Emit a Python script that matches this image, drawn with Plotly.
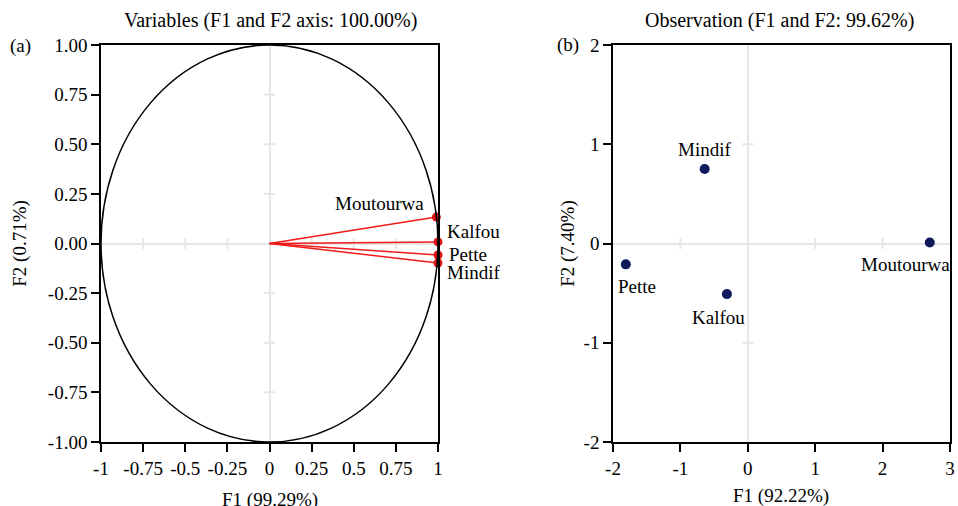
import plotly.graph_objects as go

# Data
var_names = ["Moutourwa", "Kalfou", "Pette", "Mindif"]
var_f1 = [0.99, 1.00, 1.00, 1.00]
var_f2 = [0.133, 0.008, -0.058, -0.098]

obs_names = ["Mindif", "Pette", "Kalfou", "Moutourwa"]
obs_f1 = [-0.64, -1.81, -0.31, 2.70]
obs_f2 = [0.75, -0.21, -0.51, 0.01]

left_xticks = [-1, -0.75, -0.5, -0.25, 0, 0.25, 0.5, 0.75, 1]
left_xtick_text = ["-1", "-0.75", "-0.5", "-0.25", "0", "0.25", "0.5", "0.75", "1"]
left_yticks = [1, 0.75, 0.5, 0.25, 0, -0.25, -0.5, -0.75, -1]
left_ytick_text = ["1.00", "0.75", "0.50", "0.25", "0.00", "-0.25", "-0.50", "-0.75", "-1.00"]
right_xticks = [-2, -1, 0, 1, 2, 3]
right_xtick_text = ["-2", "-1", "0", "1", "2", "3"]
right_yticks = [-2, -1, 0, 1, 2]
right_ytick_text = ["-2", "-1", "0", "1", "2"]

# label styling (anchor, x offset px, y offset px)
var_label_style = [("right", -10, 14), ("left", 7, 10), ("left", 9, 1), ("left", 7, -10)]
obs_label_style = [("center", 0, 20), ("center", 11, -22), ("center", -8, -23), ("center", -24, -22)]

FONT = "Liberation Serif"
FS = 19
GRID = "#e6e6e6"

fig = go.Figure()

# small tick marks on zero lines (left)
fig.add_trace(go.Scatter(x=[t for t in left_xticks if t not in (0, -1, 1)], y=[0]*6, mode="markers",
                         marker=dict(symbol="line-ns", size=8, line=dict(color=GRID, width=2)),
                         xaxis="x", yaxis="y", hoverinfo="skip", showlegend=False))
fig.add_trace(go.Scatter(x=[0]*6, y=[t for t in left_yticks if t not in (0, -1, 1)], mode="markers",
                         marker=dict(symbol="line-ew", size=8, line=dict(color=GRID, width=2)),
                         xaxis="x", yaxis="y", hoverinfo="skip", showlegend=False))

# arrows
for n, x, y in zip(var_names, var_f1, var_f2):
    fig.add_trace(go.Scatter(x=[0, x], y=[0, y], mode="lines", line=dict(color="#f01a1a", width=1.5),
                             xaxis="x", yaxis="y", showlegend=False, hoverinfo="skip"))
fig.add_trace(go.Scatter(x=var_f1, y=var_f2, mode="markers", cliponaxis=False,
                         marker=dict(color="#e01515", size=9),
                         xaxis="x", yaxis="y", showlegend=False))

# right zero-line ticks
fig.add_trace(go.Scatter(x=[-1, 1, 2], y=[0, 0, 0], mode="markers",
                         marker=dict(symbol="line-ns", size=8, line=dict(color=GRID, width=2)),
                         xaxis="x2", yaxis="y2", hoverinfo="skip", showlegend=False))
fig.add_trace(go.Scatter(x=[0, 0], y=[-1, 1], mode="markers",
                         marker=dict(symbol="line-ew", size=8, line=dict(color=GRID, width=2)),
                         xaxis="x2", yaxis="y2", hoverinfo="skip", showlegend=False))

fig.add_trace(go.Scatter(x=obs_f1, y=obs_f2, mode="markers", cliponaxis=False,
                         marker=dict(color="#0f1a5c", size=10),
                         xaxis="x2", yaxis="y2", showlegend=False))

fig.add_shape(type="circle", xref="x", yref="y", x0=-1, y0=-1, x1=1, y1=1,
              line=dict(color="black", width=1.5), layer="above")

axis_common = dict(showgrid=False, zeroline=True, zerolinecolor=GRID, zerolinewidth=2,
                   showline=True, linecolor="black", linewidth=1.5, mirror=True,
                   ticks="outside", ticklen=8, tickwidth=1.5, tickcolor="black", automargin=False,
                   tickfont=dict(family=FONT, size=FS, color="black"))

T = 45
B = 64
annotations = []
for n, x, y, (anc, dx, dy) in zip(var_names, var_f1, var_f2, var_label_style):
    annotations.append(dict(text=n, x=x, y=y, xref="x", yref="y", showarrow=False, xanchor=anc,
                            yanchor="middle", xshift=dx, yshift=dy, font=dict(family=FONT, size=FS)))
for n, x, y, (anc, dx, dy) in zip(obs_names, obs_f1, obs_f2, obs_label_style):
    annotations.append(dict(text=n, x=x, y=y, xref="x2", yref="y2", showarrow=False, xanchor=anc,
                            yanchor="middle", xshift=dx, yshift=dy, font=dict(family=FONT, size=FS)))

ph = 506 - T - B
def py(pix):
    return (506 - B - pix) / ph

annotations += [
    dict(text="Variables (F1 and F2 axis: 100.00%)", x=270/958, y=py(20), xref="paper", yref="paper",
         xanchor="center", yanchor="middle", showarrow=False, font=dict(family=FONT, size=20)),
    dict(text="Observation (F1 and F2: 99.62%)", x=779/958, y=py(20), xref="paper", yref="paper",
         xanchor="center", yanchor="middle", showarrow=False, font=dict(family=FONT, size=20)),
    dict(text="(a)", x=20/958, y=py(46), xref="paper", yref="paper", xanchor="center", yanchor="middle",
         showarrow=False, font=dict(family=FONT, size=FS)),
    dict(text="(b)", x=568/958, y=py(45), xref="paper", yref="paper", xanchor="center", yanchor="middle",
         showarrow=False, font=dict(family=FONT, size=FS)),
    dict(text="F1 (99.29%)", x=270/958, y=py(500), xref="paper", yref="paper", xanchor="center",
         yanchor="middle", showarrow=False, font=dict(family=FONT, size=FS)),
    dict(text="F1 (92.22%)", x=781/958, y=py(496), xref="paper", yref="paper", xanchor="center",
         yanchor="middle", showarrow=False, font=dict(family=FONT, size=FS)),
]

fig.update_layout(
    width=958, height=506,
    margin=dict(l=0, r=0, t=T, b=B, autoexpand=False),
    plot_bgcolor="white", paper_bgcolor="white",
    font=dict(family=FONT, size=FS, color="black"),
    xaxis=dict(domain=[101/958, 438/958], range=[-1, 1], tickvals=left_xticks, ticktext=left_xtick_text,
               **axis_common),
    yaxis=dict(domain=[0, 1], range=[-1, 1], tickvals=left_yticks, ticktext=left_ytick_text,
               title=dict(text="F2 (0.71%)", font=dict(family=FONT, size=FS), standoff=16), anchor="x", **axis_common),
    xaxis2=dict(domain=[613/958, 950/958], range=[-2, 3], tickvals=right_xticks, ticktext=right_xtick_text, anchor="y2",
                **axis_common),
    yaxis2=dict(domain=[0, 1], range=[-2, 2], tickvals=right_yticks, ticktext=right_ytick_text, anchor="x2",
                title=dict(text="F2 (7.40%)", font=dict(family=FONT, size=FS), standoff=4), **axis_common),
    annotations=annotations,
)

fig.write_html("out.html", config={"displayModeBar": False},
               post_script="document.body.style.margin='0px';")
